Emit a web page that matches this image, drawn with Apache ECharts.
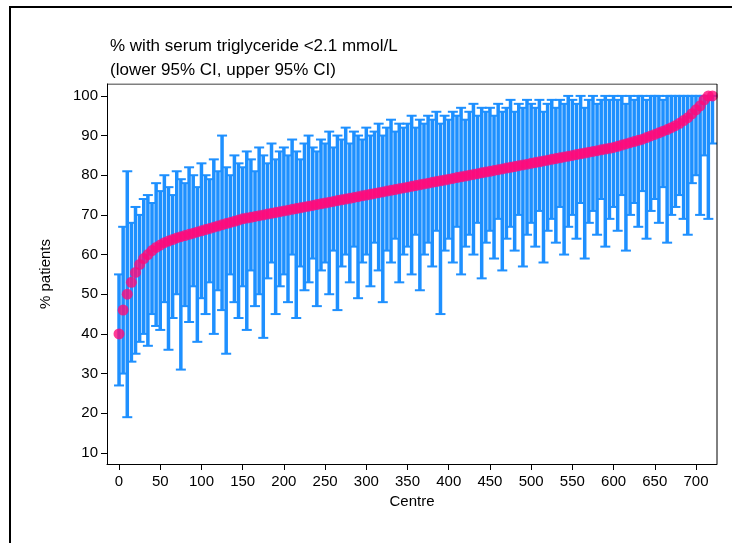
<!DOCTYPE html>
<html><head><meta charset="utf-8">
<script src="https://cdn.jsdelivr.net/npm/echarts@6/dist/echarts.min.js"></script>
<style>html,body{margin:0;background:#fff}#c{width:732px;height:543px}</style>
</head><body><div id="c"></div>
<script>
var centres = [];
for (var i = 0; i <= 720; i += 5) centres.push(i);
var values = [40,46,50,53,55.5,57.5,59,60,61,61.8,
62.4,63,63.4,63.8,64.2,64.5,64.8,65.1,65.4,65.7,
66,66.3,66.6,66.9,67.2,67.5,67.8,68.1,68.4,68.7,
69,69.2,69.4,69.6,69.8,70,70.2,70.4,70.6,70.8,
71,71.2,71.4,71.6,71.8,72,72.2,72.4,72.6,72.8,
73,73.2,73.4,73.6,73.8,74,74.2,74.4,74.6,74.8,
75,75.2,75.4,75.6,75.8,76,76.2,76.4,76.6,76.8,
77,77.2,77.4,77.6,77.8,78,78.2,78.4,78.6,78.8,
79,79.2,79.4,79.6,79.8,80,80.2,80.4,80.6,80.8,
81,81.2,81.4,81.6,81.8,82,82.2,82.4,82.6,82.8,
83,83.2,83.4,83.6,83.8,84,84.2,84.4,84.6,84.8,
85,85.2,85.4,85.6,85.8,86,86.2,86.4,86.6,86.8,
87,87.3,87.6,87.9,88.2,88.5,88.8,89.1,89.5,89.9,
90.3,90.7,91.1,91.5,92,92.5,93.1,93.8,94.5,95.5,
96.5,97.5,99,100,100];
var lower = [27,30,19,33,35,38,40,37,45,42,
41,48,36,44,50,31,47,43,52,38,
49,45,53,40,51,46,35,55,48,44,
52,41,56,47,50,39,54,58,45,52,
55,48,60,44,57,51,53,59,47,56,
58,50,61,46,57,60,53,62,49,58,
60,52,63,56,48,61,58,64,53,60,
62,55,65,51,60,63,57,66,45,61,
64,58,67,55,62,65,60,68,54,63,
66,59,69,56,64,67,61,70,57,65,
68,62,71,58,66,69,63,72,60,67,
70,64,73,59,68,71,65,74,62,69,
72,66,75,61,70,73,67,76,64,71,
74,68,77,63,70,72,75,69,65,78,
80,70,85,69,88];
var upper = [55,67,81,68,72,70,74,75,73,78,
76,80,77,75,81,79,78,82,80,77,
83,80,79,84,81,90,82,80,85,83,
82,86,84,81,87,85,83,88,84,86,
87,85,89,86,84,88,90,87,86,89,
88,91,87,90,89,92,88,91,90,89,
92,90,91,93,90,92,94,91,93,92,
93,95,92,94,93,95,94,96,93,95,
94,96,95,97,94,96,98,95,97,96,
97,95,98,96,97,99,96,98,97,99,
98,97,99,96,98,99,97,99,98,100,
99,98,100,97,99,100,98,99,100,99,
100,99,100,98,100,99,100,100,99,100,
100,100,99,100,100,100,100,100,100,100,
100,100,100,100,100];
var yTicks = [10,20,30,40,50,60,70,80,90,100];
var xTicks = [0,50,100,150,200,250,300,350,400,450,500,550,600,650,700];

var ci = centres.map(function(c,i){return [c, lower[i], upper[i]];});
var pts = centres.map(function(c,i){return [c, values[i]];});
var FONT = 'Liberation Sans';
var blue = '#1e90ff', pink = '#ff0a7a';
var chart = echarts.init(document.getElementById('c'));
chart.setOption({
  animation:false,
  textStyle:{fontFamily:FONT},
  grid:{left:107,right:15,top:84,bottom:79},
  graphic:[
    {type:'rect',shape:{x:10,y:7,width:760,height:600},style:{fill:'none',stroke:'#000',lineWidth:2}},
    {type:'text',left:110,top:38,style:{text:'% with serum triglyceride <2.1 mmol/L',font:'17px Liberation Sans',fill:'#000'}},
    {type:'text',left:110,top:62,style:{text:'(lower 95% CI, upper 95% CI)',font:'17px Liberation Sans',fill:'#000'}}
  ],
  xAxis:{type:'value',min:-14.6,max:725.5,name:'Centre',nameLocation:'middle',nameGap:27,
    nameTextStyle:{fontSize:15,color:'#000'},
    axisLine:{show:true,onZero:false,lineStyle:{color:'#000'}},
    axisTick:{show:true,customValues:xTicks,length:6,lineStyle:{color:'#000'}},
    axisLabel:{customValues:xTicks,fontSize:15,color:'#000',margin:10},
    splitLine:{show:false}},
  yAxis:{type:'value',min:7.2,max:103,name:'% patients',nameLocation:'middle',nameGap:54,
    nameTextStyle:{fontSize:15,color:'#000'},
    axisLine:{show:true,onZero:false,lineStyle:{color:'#000'}},
    axisTick:{show:true,customValues:yTicks,length:6,lineStyle:{color:'#000'}},
    axisLabel:{customValues:yTicks,fontSize:15,color:'#000',margin:9},
    splitLine:{show:false}},
  series:[
    {type:'custom',data:ci,clip:true,renderItem:function(p,api){
      var x=api.value(0),a=api.coord([x,api.value(1)]),b=api.coord([x,api.value(2)]);
      var st={stroke:blue,lineWidth:3.5};
      var s2={stroke:blue,lineWidth:2};
      return {type:'group',children:[
        {type:'line',shape:{x1:a[0],y1:a[1],x2:b[0],y2:b[1]},style:st},
        {type:'line',shape:{x1:a[0]-5,y1:a[1],x2:a[0]+5,y2:a[1]},style:s2},
        {type:'line',shape:{x1:b[0]-5,y1:b[1],x2:b[0]+5,y2:b[1]},style:s2}
      ]};
    }},
    {type:'scatter',data:pts,symbolSize:11,itemStyle:{color:pink}},
    {type:'line',data:[[-14.6,103],[725.5,103]],symbol:'none',lineStyle:{color:'#000',width:1},silent:true},
    {type:'line',data:[[725.5,7.2],[725.5,103]],symbol:'none',lineStyle:{color:'#000',width:1},silent:true}
  ]
});
</script></body></html>
